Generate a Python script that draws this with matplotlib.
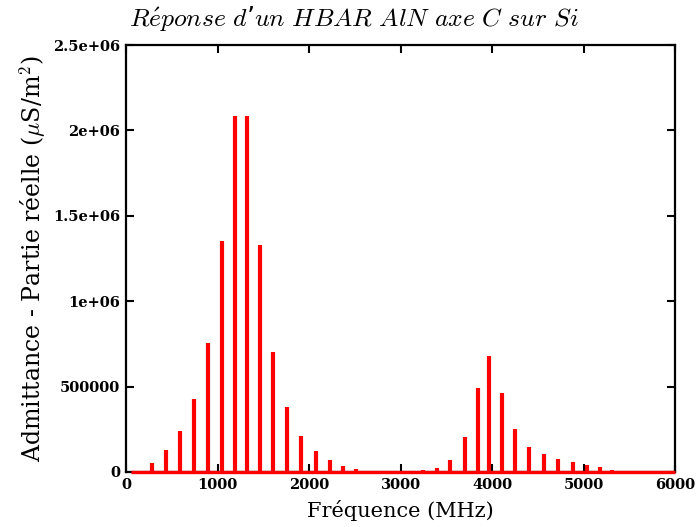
import matplotlib
matplotlib.use("Agg")
from matplotlib import pyplot as plt

plt.rcParams['mathtext.fontset'] = 'cm'

# Peak positions (MHz) and heights (uS/m^2)
freq_peaks = [134, 288, 437, 590, 746, 899, 1046, 1188, 1322, 1461, 1607,
              1760, 1913, 2073, 2226, 2375, 2517, 2648,
              3250, 3395, 3545, 3703, 3847, 3971, 4105, 4251, 4406, 4563,
              4723, 4884, 5035, 5180, 5308, 5450, 5580]
admittance = [4000, 53000, 127000, 240000, 427000, 757000, 1352000, 2084000,
              2086000, 1327000, 704000, 379000, 211000, 123000, 69000, 37000,
              17500, 7500,
              9000, 26000, 73000, 206000, 492000, 677000, 462000, 253000,
              148000, 104000, 76000, 56000, 40000, 31000, 14000, 5000, 3000]

# flat response between the peaks
freq_base = [50, 6000]
base_val = [0, 0]

xticks = [0, 1000, 2000, 3000, 4000, 5000, 6000]
yticks = [0, 500000, 1000000, 1500000, 2000000, 2500000]
ytick_labels = ['0', '500000', '1e+06', '1.5e+06', '2e+06', '2.5e+06']

fig = plt.figure(figsize=(6.96, 5.27), dpi=100)
ax = fig.add_axes([0.181, 0.1044, 0.789, 0.8102])

ax.plot(freq_base, base_val, color='red', lw=2.4, solid_capstyle='butt',
        zorder=3, clip_on=False)
ax.vlines(freq_peaks, 0, admittance, color='red', lw=3.0, zorder=3)

ax.set_xlim(0, 6000)
ax.set_ylim(0, 2500000)
ax.set_xticks(xticks)
ax.set_xticklabels([str(t) for t in xticks])
ax.set_yticks(yticks)
ax.set_yticklabels(ytick_labels)

ax.tick_params(direction='in', length=6, width=1.5, top=True, right=True,
               pad=4)
for lab in ax.get_xticklabels() + ax.get_yticklabels():
    lab.set_fontfamily('DejaVu Serif')
    lab.set_fontweight('bold')
    lab.set_fontsize(10.5)
for sp in ax.spines.values():
    sp.set_linewidth(1.6)

ax.set_xlabel('Fréquence (MHz)', fontfamily='DejaVu Serif', fontsize=15,
              labelpad=6)
ax.set_ylabel('Admittance - Partie réelle ($\\mu$S/m$^2$)',
              fontfamily='DejaVu Serif', fontsize=17)
ax.yaxis.set_label_coords(-0.142, 0.5)

# title in math italic, apostrophe kept as text
fig.text(0.508, 0.964,
         "$R\\acute{e}ponse\\ d$’$un\\ HBAR\\ AlN\\ axe\\ C\\ sur\\ Si$",
         ha='center', va='center', fontsize=18.5)

fig.savefig('out.png', dpi=100)
